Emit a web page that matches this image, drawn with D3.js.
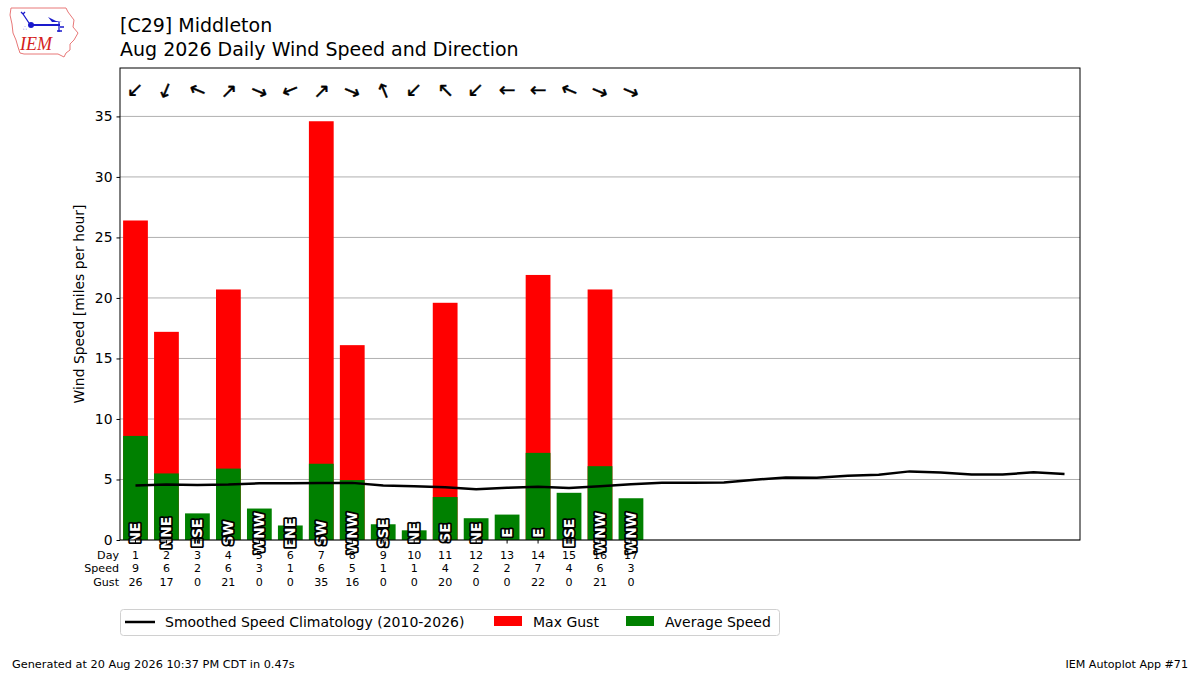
<!DOCTYPE html>
<html>
<head>
<meta charset="utf-8">
<script src="https://cdn.jsdelivr.net/npm/d3@7"></script>
<style>
  body { margin: 0; background: #fff; }
  svg { font-family: "DejaVu Sans", sans-serif; display: block; }
</style>
</head>
<body>
<svg id="chart" width="1200" height="675"></svg>
<script>
const margin = {top: 68, right: 120, bottom: 135, left: 120};
const width = 1200 - margin.left - margin.right;
const height = 675 - margin.top - margin.bottom;

// daily observations (day of month)
const days = [1, 2, 3, 4, 5, 6, 7, 8, 9, 10, 11, 12, 13, 14, 15, 16, 17];
const avgSpeed = [8.6, 5.5, 2.2, 5.9, 2.6, 1.2, 6.3, 4.95, 1.3, 0.8, 3.55, 1.8, 2.1, 7.2, 3.9, 6.1, 3.45];
const maxGust = [26.4, 17.2, 0, 20.7, 0, 0, 34.6, 16.1, 0, 0, 19.6, 0, 0, 21.9, 0, 20.7, 0];
const dirLabels = ['NE', 'NNE', 'ESE', 'SW', 'WNW', 'ENE', 'SW', 'WNW', 'SSE', 'NE', 'SE', 'NE', 'E', 'E', 'ESE', 'WNW', 'WNW'];

// smoothed climatology for every day of the month
const climoDays = d3.range(1, 32);
const climoSpeed = [4.51, 4.58, 4.55, 4.58, 4.68, 4.68, 4.7, 4.72, 4.5, 4.45, 4.35, 4.2, 4.32, 4.4, 4.3, 4.45, 4.6,
    4.73, 4.73, 4.75, 4.98, 5.17, 5.15, 5.3, 5.39, 5.67, 5.58, 5.42, 5.42, 5.59, 5.45];

const yTicks = [0, 5, 10, 15, 20, 25, 30, 35];
const compass = ['N', 'NNE', 'NE', 'ENE', 'E', 'ESE', 'SE', 'SSE', 'S', 'SSW', 'SW', 'WSW', 'W', 'WNW', 'NW', 'NNW'];

const svg = d3.select("#chart");

// logo (rough IEM mark)
const logo = svg.append("g");
logo.append("path")
    .attr("d", "M11,8 L66,8 L68,12 L74,20 L73,27 L78,33 L74,40 L70,44 L70,50 L66,53 L64,57 L58,54 L24,54 L20,53 L18,47 L16,40 L13,33 L12,24 L10,15 Z")
    .attr("fill", "none")
    .attr("stroke", "#e87878")
    .attr("stroke-width", 1);
logo.append("line").attr("x1", 30).attr("y1", 25).attr("x2", 60).attr("y2", 25)
    .attr("stroke", "#1a1acc").attr("stroke-width", 2);
logo.append("circle").attr("cx", 31).attr("cy", 25).attr("r", 3).attr("fill", "#1a1acc");
logo.append("path").attr("d", "M29,23 L23,14 M23,14 L21,12 M23,14 L25,12")
    .attr("stroke", "#1a1acc").attr("stroke-width", 1.3).attr("fill", "none");
logo.append("path").attr("d", "M48,17 L56,21 L62,22 L52,22 Z").attr("fill", "#1a1acc");
logo.append("path").attr("d", "M59,22 L59,32 M57,31 L62,31 M60,27 L64,27")
    .attr("stroke", "#1a1acc").attr("stroke-width", 1.3).attr("fill", "none");
logo.append("text").attr("x", 23).attr("y", 30).attr("font-size", 6).attr("fill", "#1a1acc").text("∴");
logo.append("text")
    .attr("x", 20).attr("y", 50)
    .attr("font-family", "Liberation Serif, serif")
    .attr("font-style", "italic")
    .attr("font-size", 18)
    .attr("fill", "#d42020")
    .text("IEM");

// titles
svg.append("text").attr("x", 120).attr("y", 32).attr("font-size", 19).text("[C29] Middleton");
svg.append("text").attr("x", 120).attr("y", 56).attr("font-size", 19).text("Aug 2026 Daily Wind Speed and Direction");

const g = svg.append("g").attr("transform", `translate(${margin.left},${margin.top})`);

const x = d3.scaleLinear().domain([0.5, 31.5]).range([0, width]);
const y = d3.scaleLinear().domain([0, 39]).range([height, 0]);
const barW = (x(1) - x(0)) * 0.8;

// grid
g.selectAll(".grid")
    .data(yTicks)
    .enter()
    .append("line")
    .attr("class", "grid")
    .attr("x1", 0).attr("x2", width)
    .attr("y1", d => y(d)).attr("y2", d => y(d))
    .attr("stroke", "#b0b0b0")
    .attr("stroke-width", 1);

// gust bars then average speed bars
g.selectAll(".gust")
    .data(days)
    .enter()
    .append("rect")
    .attr("class", "gust")
    .attr("x", (d, i) => x(d) - barW / 2)
    .attr("width", barW)
    .attr("y", (d, i) => y(maxGust[i]))
    .attr("height", (d, i) => y(0) - y(maxGust[i]))
    .attr("fill", "#ff0000");

g.selectAll(".avg")
    .data(days)
    .enter()
    .append("rect")
    .attr("class", "avg")
    .attr("x", (d, i) => x(d) - barW / 2)
    .attr("width", barW)
    .attr("y", (d, i) => y(avgSpeed[i]))
    .attr("height", (d, i) => y(0) - y(avgSpeed[i]))
    .attr("fill", "#008000");

// climatology line
const line = d3.line()
    .x((d, i) => x(climoDays[i]))
    .y(d => y(d));

g.append("path")
    .datum(climoSpeed)
    .attr("d", line)
    .attr("fill", "none")
    .attr("stroke", "#000")
    .attr("stroke-width", 2.5);

// direction labels on bars
g.selectAll(".dirlab")
    .data(days)
    .enter()
    .append("text")
    .attr("class", "dirlab")
    .attr("transform", d => `translate(${x(d)},${y(0.57)}) rotate(-90)`)
    .attr("text-anchor", "middle")
    .attr("dominant-baseline", "central")
    .attr("font-size", 13.8)
    .attr("font-weight", "bold")
    .attr("fill", "#fff")
    .attr("stroke", "#000")
    .attr("stroke-width", 3.5)
    .attr("stroke-linejoin", "round")
    .attr("paint-order", "stroke")
    .text((d, i) => dirLabels[i]);

// arrows showing where the wind blows to
g.selectAll(".arrow")
    .data(days)
    .enter()
    .append("text")
    .attr("class", "arrow")
    .attr("transform", (d, i) => {
        const deg = compass.indexOf(dirLabels[i]) * 22.5;
        return `translate(${x(d)},${y(37.1)}) rotate(${deg + 90})`;
    })
    .attr("text-anchor", "middle")
    .attr("dominant-baseline", "central")
    .attr("font-size", 20)
    .attr("stroke", "#000")
    .attr("stroke-width", 0.4)
    .text("→");

// y axis
const yAxis = d3.axisLeft(y).tickValues(yTicks).tickSize(3.5).tickPadding(4);
const ya = g.append("g").call(yAxis);
ya.select(".domain").remove();
ya.selectAll("text").attr("font-size", 13.9).attr("font-family", "DejaVu Sans");
ya.selectAll("line").attr("stroke", "#000");

g.append("text")
    .attr("transform", `translate(${-36},${height / 2}) rotate(-90)`)
    .attr("text-anchor", "middle")
    .attr("font-size", 13.9)
    .text("Wind Speed [miles per hour]");

// x ticks
g.selectAll(".xtick")
    .data(days)
    .enter()
    .append("line")
    .attr("x1", d => x(d)).attr("x2", d => x(d))
    .attr("y1", height).attr("y2", height + 3.5)
    .attr("stroke", "#000");

// table of values under each day
const rows = [
    {name: "Day", vals: days.map(d => d)},
    {name: "Speed", vals: avgSpeed.map(v => Math.round(v))},
    {name: "Gust", vals: maxGust.map(v => Math.round(v))}
];
rows.forEach((r, k) => {
    const yy = height + 15 + k * 13.5;
    g.append("text")
        .attr("x", -1).attr("y", yy)
        .attr("text-anchor", "end")
        .attr("dominant-baseline", "central")
        .attr("font-size", 11.1)
        .text(r.name);
    g.selectAll(".row" + k)
        .data(days)
        .enter()
        .append("text")
        .attr("x", d => x(d))
        .attr("y", yy)
        .attr("text-anchor", "middle")
        .attr("dominant-baseline", "central")
        .attr("font-size", 11.1)
        .text((d, i) => r.vals[i]);
});

// frame
g.append("rect")
    .attr("width", width).attr("height", height)
    .attr("fill", "none")
    .attr("stroke", "#000")
    .attr("stroke-width", 1);

// legend
const lg = svg.append("g");
lg.append("rect")
    .attr("x", 120.5).attr("y", 609.5).attr("width", 659).attr("height", 26).attr("rx", 3)
    .attr("fill", "#fff").attr("stroke", "#d0d0d0");
lg.append("line").attr("x1", 125).attr("x2", 155).attr("y1", 622).attr("y2", 622)
    .attr("stroke", "#000").attr("stroke-width", 2.5);
lg.append("text").attr("x", 165).attr("y", 622).attr("dominant-baseline", "central")
    .attr("font-size", 14).text("Smoothed Speed Climatology (2010-2026)");
lg.append("rect").attr("x", 494).attr("y", 616).attr("width", 28).attr("height", 10).attr("fill", "#ff0000");
lg.append("text").attr("x", 533).attr("y", 622).attr("dominant-baseline", "central")
    .attr("font-size", 14).text("Max Gust");
lg.append("rect").attr("x", 626).attr("y", 616).attr("width", 28).attr("height", 10).attr("fill", "#008000");
lg.append("text").attr("x", 665).attr("y", 622).attr("dominant-baseline", "central")
    .attr("font-size", 14).text("Average Speed");

// footer
svg.append("text").attr("x", 12).attr("y", 668).attr("font-size", 11.3)
    .text("Generated at 20 Aug 2026 10:37 PM CDT in 0.47s");
svg.append("text").attr("x", 1188).attr("y", 668).attr("font-size", 11.1).attr("text-anchor", "end")
    .text("IEM Autoplot App #71");
</script>
</body>
</html>
